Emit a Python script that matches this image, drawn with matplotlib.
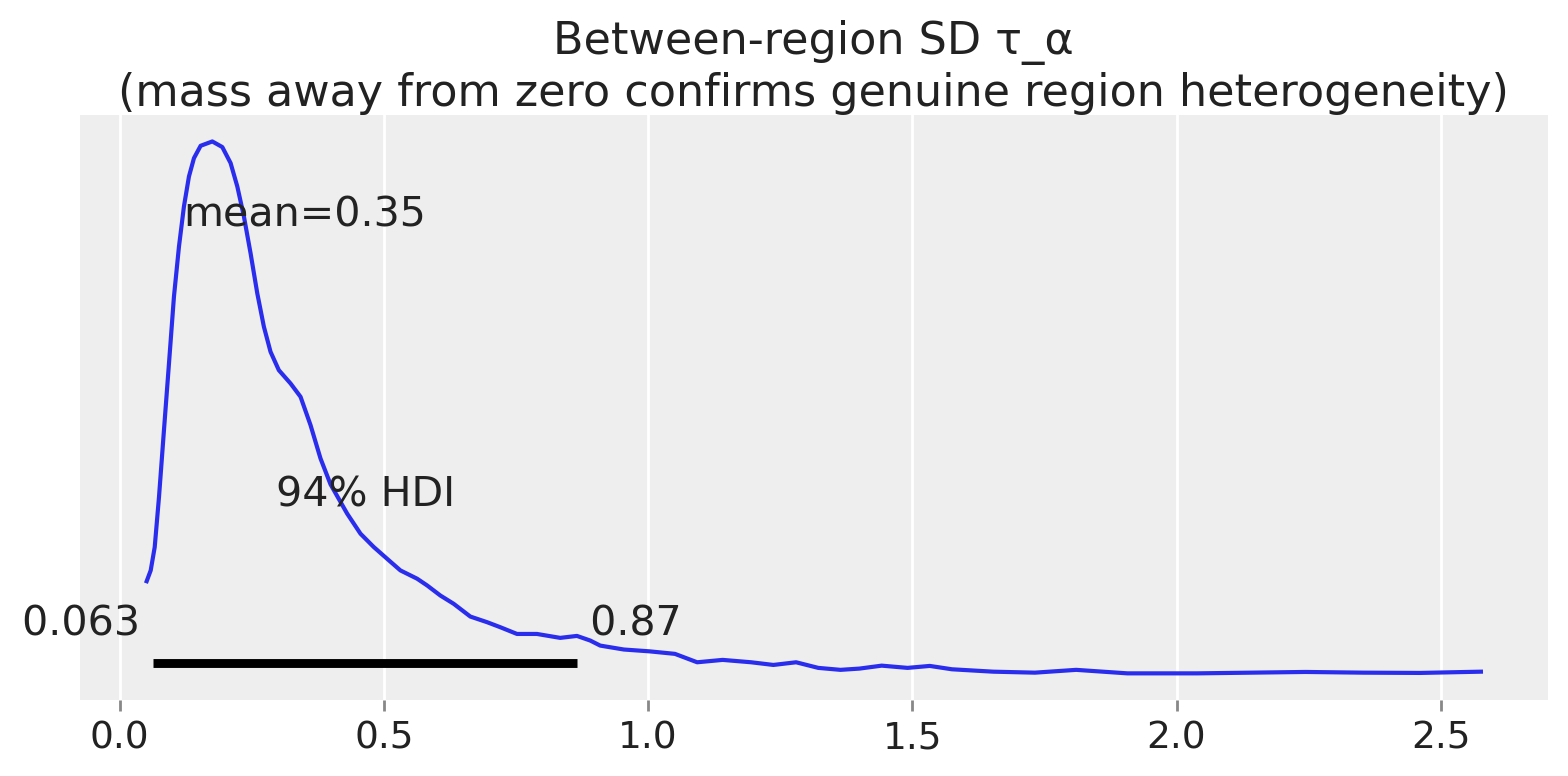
import numpy as np
import matplotlib
matplotlib.use("Agg")
import matplotlib.pyplot as plt

# posterior density of tau_alpha
tau_x = [0.0510, 0.0586, 0.0662, 0.0743, 0.0837, 0.0932, 0.1026, 0.1121, 0.1215,
         0.1310, 0.1405, 0.1531, 0.1752, 0.1941, 0.2098, 0.2225, 0.2350, 0.2476,
         0.2603, 0.2728, 0.2854, 0.3011, 0.3233, 0.3422, 0.3611, 0.3800, 0.3989,
         0.4304, 0.4556, 0.4807, 0.5060, 0.5312, 0.5628, 0.5817, 0.6068, 0.6320,
         0.6635, 0.6951, 0.7202, 0.7518, 0.7896, 0.8336, 0.8652, 0.8904, 0.9093,
         0.954, 1.0025, 1.0507, 1.0928, 1.141, 1.195, 1.237, 1.280, 1.322, 1.364,
         1.400, 1.442, 1.491, 1.533, 1.575, 1.653, 1.732, 1.810, 1.907, 2.039,
         2.244, 2.353, 2.461, 2.576]
tau_density = [0.666, 0.743, 0.909, 1.266, 1.743, 2.219, 2.695, 3.052, 3.338,
               3.552, 3.683, 3.771, 3.802, 3.762, 3.648, 3.481, 3.267, 3.005,
               2.719, 2.481, 2.302, 2.171, 2.076, 1.981, 1.779, 1.541, 1.357,
               1.148, 1.005, 0.910, 0.826, 0.743, 0.684, 0.636, 0.564, 0.505,
               0.414, 0.374, 0.338, 0.290, 0.290, 0.262, 0.276, 0.243, 0.207,
               0.179, 0.166, 0.148, 0.088, 0.105, 0.088, 0.069, 0.088, 0.048, 0.034,
               0.043, 0.064, 0.048, 0.062, 0.038, 0.021, 0.014, 0.034, 0.009, 0.009,
               0.019, 0.014, 0.012, 0.021]

post_mean = 0.35
hdi_low, hdi_high = 0.0635, 0.866
hdi_labels = ["0.063", "0.87"]
hdi_prob_label = "94% HDI"
title = "Between-region SD τ_α\n(mass away from zero confirms genuine region heterogeneity)"

text_col = "#222222"
plt.rcParams["font.family"] = ["DejaVu Sans"]

fig = plt.figure(figsize=(7.84, 3.88), dpi=200)
ax = fig.add_axes([0.051, 0.098, 0.936, 0.754])
ax.set_facecolor("#eeeeee")
for s in ax.spines.values():
    s.set_visible(False)

ax.plot(tau_x, tau_density, color="#2a2eec", lw=1.5)
plot_height = ax.get_ylim()[1]

# hdi bar and labels, arviz style
ax.plot([hdi_low, hdi_high], [plot_height * 0.02] * 2, color="k", lw=3.2,
        solid_capstyle="butt")
ax.text(hdi_low, plot_height * 0.07, hdi_labels[0] + " ", ha="right",
        fontsize=14.8, color=text_col)
ax.text(hdi_high, plot_height * 0.07, " " + hdi_labels[1], ha="left",
        fontsize=14.8, color=text_col)
ax.text((hdi_low + hdi_high) / 2, plot_height * 0.3, hdi_prob_label, ha="center",
        fontsize=14.8, color=text_col)
ax.text(post_mean, plot_height * 0.8, "mean=%.2f" % post_mean, ha="center",
        fontsize=14.8, color=text_col)

ax.set_yticks([])
ax.set_xticks([0.0, 0.5, 1.0, 1.5, 2.0, 2.5])
ax.grid(True, axis="x", color="white", lw=1.0)
ax.set_axisbelow(True)
ax.tick_params(axis="x", labelsize=13.5, colors="#888888", labelcolor=text_col,
               length=4, width=1)
ax.set_title(title, fontsize=16, color=text_col, pad=3)

fig.savefig("out.png", dpi=200)
